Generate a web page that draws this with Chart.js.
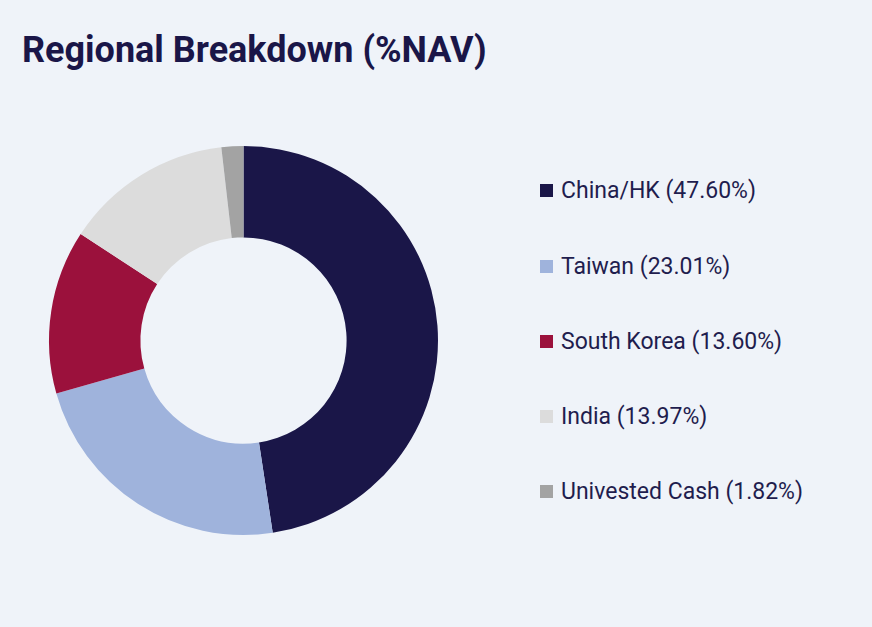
<!DOCTYPE html>
<html>
<head>
<meta charset="utf-8">
<script src="https://cdn.jsdelivr.net/npm/chart.js@4"></script>
<style>
  html, body { margin: 0; padding: 0; background: #eff3f9; }
  body { width: 872px; height: 627px; position: relative; overflow: hidden; font-family: Roboto, "Noto Sans", sans-serif; }
  #judul { position: absolute; left: 22px; top: 25px; margin: 0; font-size: 36px; font-weight: 700; color: #1a1648; white-space: nowrap; line-height: 50px; }
  #wadah { position: absolute; left: 44px; top: 141px; width: 399px; height: 399px; }
  #legenda { position: absolute; left: 540px; top: 0; }
  .item { position: absolute; left: 0; white-space: nowrap; font-size: 23px; color: #1f1d4e; line-height: 26px; }
  .kotak { position: absolute; left: 0; top: 6px; width: 13px; height: 13px; }
  .teks { position: absolute; left: 21px; top: 0; }
</style>
</head>
<body>
<h1 id="judul">Regional Breakdown (%NAV)</h1>
<div id="wadah"><canvas id="regionChart"></canvas></div>
<div id="legenda"></div>
<script>
const kategori = ["China/HK", "Taiwan", "South Korea", "India", "Univested Cash"];
const persen = [47.60, 23.01, 13.60, 13.97, 1.82];
const warna = ["#1a1648", "#9fb3dc", "#9b113c", "#dcdcdc", "#a3a3a3"];

const ctx = document.getElementById("regionChart").getContext("2d");
const chart = new Chart(ctx, {
  type: "doughnut",
  data: {
    labels: kategori,
    datasets: [{
      data: persen,
      backgroundColor: warna,
      borderWidth: 0
    }]
  },
  options: {
    responsive: true,
    maintainAspectRatio: false,
    animation: false,
    cutout: "53%",
    layout: { padding: 5 },
    plugins: {
      legend: { display: false },
      tooltip: { enabled: false }
    }
  }
});

// legend manual biar posisinya pas
const legenda = document.getElementById("legenda");
const posisiY = [178, 254, 329, 404, 479];
chart.data.labels.forEach((label, i) => {
  const item = document.createElement("div");
  item.className = "item";
  item.style.top = posisiY[i] + "px";
  item.innerHTML = `<span class="kotak" style="background:${warna[i]}"></span>` +
    `<span class="teks">${label} (${persen[i].toFixed(2)}%)</span>`;
  legenda.appendChild(item);
});
</script>
</body>
</html>
